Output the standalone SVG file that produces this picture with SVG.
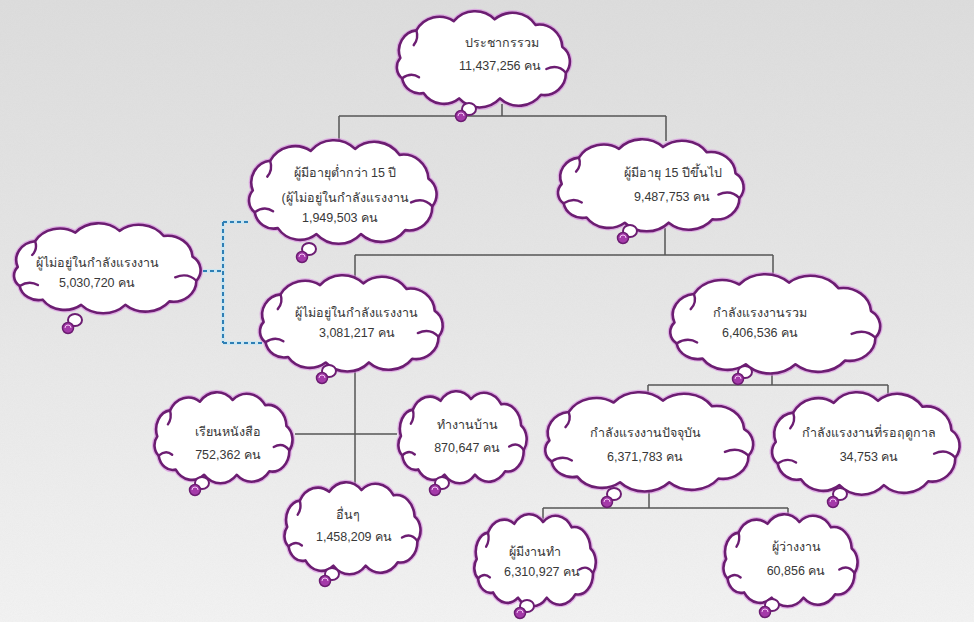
<svg xmlns="http://www.w3.org/2000/svg" xmlns:xlink="http://www.w3.org/1999/xlink" width="974" height="622" viewBox="0 0 974 622">
<style>
.glow{fill:none;stroke:#d77fe0;stroke-width:5;stroke-opacity:.55;vector-effect:non-scaling-stroke;stroke-linejoin:round;stroke-linecap:round}
.edge{fill:#fff;stroke:#6c1d72;stroke-width:2.6;vector-effect:non-scaling-stroke;stroke-linejoin:round}
.curl{fill:none;stroke:#6c1d72;stroke-width:2.4;vector-effect:non-scaling-stroke;stroke-linecap:round}
.t{font-family:"Liberation Sans","DejaVu Sans",sans-serif;font-size:12.5px;fill:#383838;text-anchor:middle}
.ln{fill:none;stroke:#555;stroke-width:1.5}
.dashg{fill:none;stroke:#bfe6f7;stroke-width:4}
.dash{fill:none;stroke:#2e7fb5;stroke-width:2;stroke-dasharray:4 3}
.bub{fill:#fff;stroke:#6c1d72;stroke-width:2}
.ball{fill:#a43aa9;stroke:#6c1d72;stroke-width:1.5}
.dot{fill:none;stroke:#f1c6f3;stroke-width:1}
</style>
<defs>
<linearGradient id="bg" x1="0" y1="0" x2="0" y2="1">
<stop offset="0" stop-color="#dddddd"/>
<stop offset="0.5" stop-color="#e7e7e7"/>
<stop offset="1" stop-color="#f3f3f3"/>
</linearGradient>
<filter id="noise" x="0" y="0" width="100%" height="100%">
<feTurbulence type="fractalNoise" baseFrequency="0.9" numOctaves="2" seed="3"/>
<feColorMatrix type="matrix" values="0 0 0 0 0.5  0 0 0 0 0.5  0 0 0 0 0.5  0 0 0 0.35 0"/>
</filter>
<symbol id="cloud" viewBox="0 0 200 100" preserveAspectRatio="none" overflow="visible">
<path class="glow" d="M6,50 A22,22 0 0 1 24,20 A30,30 0 0 1 66,10 A32,32 0 0 1 112,8 A32,32 0 0 1 158,14 A26,26 0 0 1 188,38 A19,19 0 0 1 192,66 A24,24 0 0 1 164,90 A32,32 0 0 1 118,94 A32,32 0 0 1 72,94 A28,28 0 0 1 32,88 A20,20 0 0 1 8,72 A15,15 0 0 1 6,50 Z"/>
<path class="edge" d="M6,50 A22,22 0 0 1 24,20 A30,30 0 0 1 66,10 A32,32 0 0 1 112,8 A32,32 0 0 1 158,14 A26,26 0 0 1 188,38 A19,19 0 0 1 192,66 A24,24 0 0 1 164,90 A32,32 0 0 1 118,94 A32,32 0 0 1 72,94 A28,28 0 0 1 32,88 A20,20 0 0 1 8,72 A15,15 0 0 1 6,50 Z"/>
<path class="curl" d="M192,66 Q183,56 170,62"/>
<path class="curl" d="M8,72 Q18,65 27,71"/>
<path class="curl" d="M24,20 Q27,29 21,36"/>
</symbol>
</defs>
<rect width="974" height="622" fill="url(#bg)"/>
<rect width="974" height="622" filter="url(#noise)" opacity="0.25"/>

<g id="connectors">
<path class="ln" d="M502,104 V116 M339,116 H666 M339,116 V143 M666,116 V141"/>
<path class="ln" d="M665,228 V255 M355,255 H773 M355,255 V278 M773,255 V276"/>
<path class="ln" d="M355,366 V485 M295,434 H397"/>
<path class="ln" d="M772,370 V385 M648,385 H888 M648,385 V395 M888,385 V396"/>
<path class="ln" d="M649,488 V508 M543,508 H788 M543,508 V520 M788,508 V518"/>
<path class="dashg" d="M203,271 H223 M223,222 V343 M223,222 H248 M223,343 H262" stroke-opacity="0.6"/>
<path class="dash" d="M203,271 H223 M223,222 V343 M223,222 H248 M223,343 H262"/>
</g>

<g id="n1">
<use href="#cloud" x="395" y="12" width="178" height="92"/>
<ellipse class="bub" cx="469" cy="109" rx="7" ry="6"/><circle class="ball" cx="461" cy="116" r="5.5"/><path class="dot" d="M458,116 a3,3 0 0 1 6,0"/>
<text class="t" x="502" y="47">ประชากรรวม</text>
<text class="t" x="500" y="70">11,437,256 คน</text>
</g>

<g id="n2">
<use href="#cloud" x="247" y="141" width="193" height="99"/>
<ellipse class="bub" cx="309" cy="249" rx="7" ry="6"/><circle class="ball" cx="302" cy="257" r="5.5"/><path class="dot" d="M299,257 a3,3 0 0 1 6,0"/>
<text class="t" x="345" y="177">ผู้มีอายุต่ำกว่า 15 ปี</text>
<text class="t" x="345" y="202">(ผู้ไม่อยู่ในกำลังแรงงาน</text>
<text class="t" x="340" y="222">1,949,503 คน</text>
</g>

<g id="n3">
<use href="#cloud" x="556" y="140" width="191" height="88"/>
<ellipse class="bub" cx="630" cy="231" rx="7" ry="6"/><circle class="ball" cx="623" cy="238" r="5.5"/><path class="dot" d="M620,238 a3,3 0 0 1 6,0"/>
<text class="t" x="673" y="177">ผู้มีอายุ 15 ปีขึ้นไป</text>
<text class="t" x="672" y="201">9,487,753 คน</text>
</g>

<g id="n4">
<use href="#cloud" x="12" y="224" width="192" height="86"/>
<ellipse class="bub" cx="75" cy="320" rx="7" ry="6"/><circle class="ball" cx="68" cy="328" r="5.5"/><path class="dot" d="M65,328 a3,3 0 0 1 6,0"/>
<text class="t" x="97" y="267">ผู้ไม่อยู่ในกำลังแรงงาน</text>
<text class="t" x="97" y="287">5,030,720 คน</text>
</g>

<g id="n5">
<use href="#cloud" x="258" y="276" width="188" height="92"/>
<ellipse class="bub" cx="329" cy="371" rx="7" ry="6"/><circle class="ball" cx="322" cy="378" r="5.5"/><path class="dot" d="M319,378 a3,3 0 0 1 6,0"/>
<text class="t" x="356" y="317">ผู้ไม่อยู่ในกำลังแรงงาน</text>
<text class="t" x="357" y="337">3,081,217 คน</text>
</g>

<g id="n6">
<use href="#cloud" x="668" y="275" width="216" height="95"/>
<ellipse class="bub" cx="745" cy="372" rx="7" ry="6"/><circle class="ball" cx="738" cy="379" r="5.5"/><path class="dot" d="M735,379 a3,3 0 0 1 6,0"/>
<text class="t" x="760" y="317">กำลังแรงงานรวม</text>
<text class="t" x="760" y="337">6,406,536 คน</text>
</g>

<g id="n7">
<use href="#cloud" x="153" y="393" width="142" height="87"/>
<ellipse class="bub" cx="202" cy="483" rx="7" ry="6"/><circle class="ball" cx="195" cy="490" r="5.5"/><path class="dot" d="M192,490 a3,3 0 0 1 6,0"/>
<text class="t" x="228" y="436">เรียนหนังสือ</text>
<text class="t" x="228" y="459">752,362 คน</text>
</g>

<g id="n8">
<use href="#cloud" x="397" y="392" width="132" height="88"/>
<ellipse class="bub" cx="442" cy="483" rx="7" ry="6"/><circle class="ball" cx="435" cy="490" r="5.5"/><path class="dot" d="M432,490 a3,3 0 0 1 6,0"/>
<text class="t" x="467" y="429">ทำงานบ้าน</text>
<text class="t" x="467" y="452">870,647 คน</text>
</g>

<g id="n9">
<use href="#cloud" x="283" y="483" width="140" height="88"/>
<ellipse class="bub" cx="332" cy="574" rx="7" ry="6"/><circle class="ball" cx="325" cy="581" r="5.5"/><path class="dot" d="M322,581 a3,3 0 0 1 6,0"/>
<text class="t" x="348" y="519">อื่นๆ</text>
<text class="t" x="354" y="541">1,458,209 คน</text>
</g>

<g id="n10">
<use href="#cloud" x="543" y="393" width="214" height="95"/>
<ellipse class="bub" cx="614" cy="494" rx="7" ry="6"/><circle class="ball" cx="607" cy="502" r="5.5"/><path class="dot" d="M604,502 a3,3 0 0 1 6,0"/>
<text class="t" x="645" y="437">กำลังแรงงานปัจจุบัน</text>
<text class="t" x="645" y="461">6,371,783 คน</text>
</g>

<g id="n11">
<use href="#cloud" x="770" y="393" width="193" height="98"/>
<ellipse class="bub" cx="840" cy="494" rx="7" ry="6"/><circle class="ball" cx="833" cy="502" r="5.5"/><path class="dot" d="M830,502 a3,3 0 0 1 6,0"/>
<text class="t" x="869" y="437">กำลังแรงงานที่รอฤดูกาล</text>
<text class="t" x="869" y="461">34,753 คน</text>
</g>

<g id="n12">
<use href="#cloud" x="473" y="515" width="125" height="88"/>
<ellipse class="bub" cx="527" cy="606" rx="7" ry="6"/><circle class="ball" cx="520" cy="613" r="5.5"/><path class="dot" d="M517,613 a3,3 0 0 1 6,0"/>
<text class="t" x="535" y="556">ผู้มีงานทำ</text>
<text class="t" x="542" y="576">6,310,927 คน</text>
</g>

<g id="n13">
<use href="#cloud" x="722" y="515" width="138" height="88"/>
<ellipse class="bub" cx="772" cy="605" rx="7" ry="6"/><circle class="ball" cx="765" cy="612" r="5.5"/><path class="dot" d="M762,612 a3,3 0 0 1 6,0"/>
<text class="t" x="796" y="551">ผู้ว่างงาน</text>
<text class="t" x="796" y="575">60,856 คน</text>
</g>
</svg>
